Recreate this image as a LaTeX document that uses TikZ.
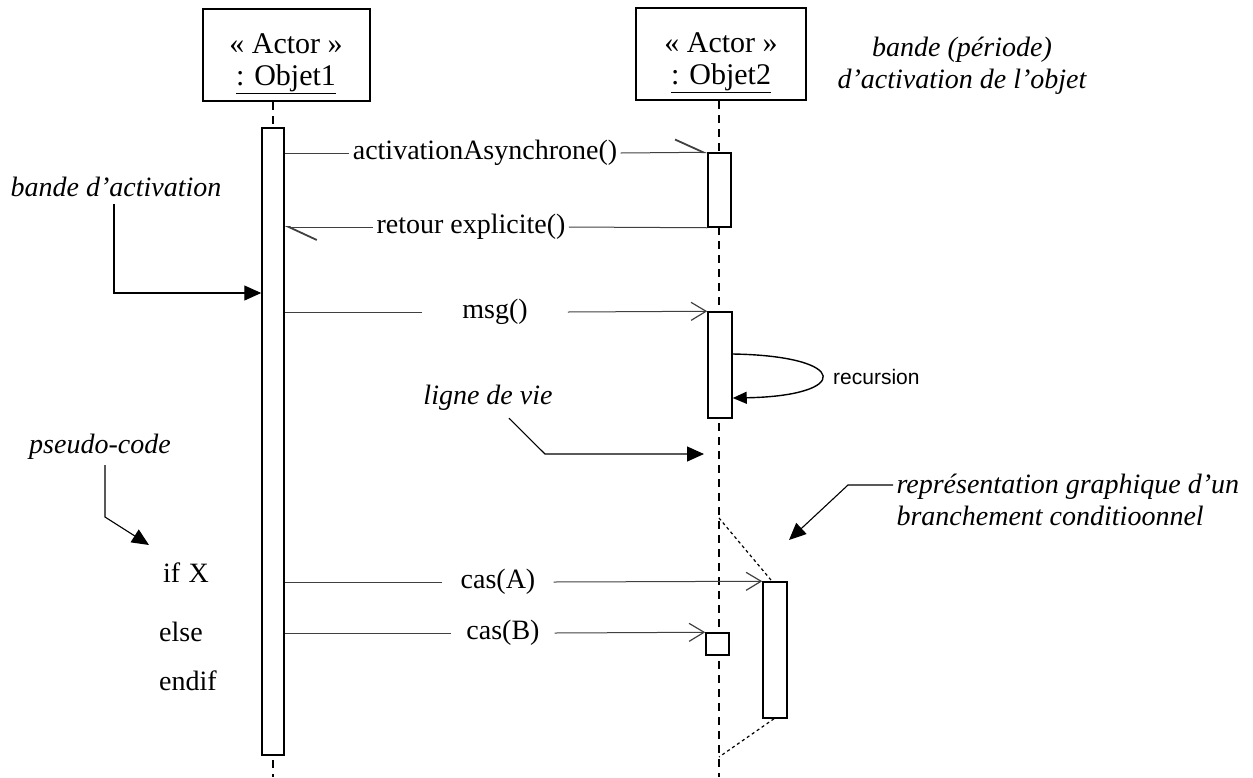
\documentclass[tikz,border=0pt]{standalone}
\usepackage{fontspec}
\setmainfont{Liberation Serif}
\newfontfamily\arialfont{Liberation Sans}
\usetikzlibrary{arrows.meta}

\begin{document}
\begin{tikzpicture}[x=1pt,y=-1pt,
    objet/.style={draw,line width=2pt,minimum width=167pt,minimum height=92pt},
    entete/.style={align=center,font=\fontsize{30}{32}\selectfont},
    bande/.style={draw,fill=white,line width=1.5pt,inner sep=0pt},
    vie/.style={line width=2pt,dash pattern=on 8pt off 6pt},
    message/.style={line width=1pt,draw=black!75},
    libelle/.style={inner ysep=1pt,font=\fontsize{28}{30}\selectfont},
    synchro/.style={message,-{Straight Barb[length=15pt,width=18pt,line width=1.2pt]}},
    asynchro/.style={message,-{Straight Barb[harpoon,length=28pt,width=26pt,line width=1.8pt]}},
    note/.style={align=center,font=\fontsize{28}{32}\selectfont\itshape},
    renvoi/.style={line width=1.1pt,-{Triangle[length=17pt,width=15pt]}},
    branche/.style={line width=1.2pt,dash pattern=on 3pt off 3pt},
    code/.style={anchor=west,inner sep=0pt,font=\fontsize{28}{30}\selectfont}]
  \useasboundingbox (0,0) rectangle (1253,777);

  \node[objet] (o1) at (286,55) {};
  \node[entete] at ([yshift=-9pt]o1.center) {« Actor »\\\underline{: Objet1}};
  \node[objet,minimum width=170pt] (o2) at (721,54) {};
  \node[entete] at ([yshift=-9pt]o2.center) {« Actor »\\\underline{: Objet2}};

  \coordinate (fin1) at (273,777);
  \coordinate (fin2) at (719,777);
  \draw[vie] (o1.south -| fin1) -- (fin1);
  \draw[vie] (o2.south -| fin2) -- (fin2);

  \coordinate (br1) at (719,518);
  \coordinate (br2) at (719,757);

  \node[bande,minimum width=22pt,minimum height=627pt] (b1) at (273,441.5) {};
  \node[bande,minimum width=23pt,minimum height=74pt] (a1) at (719.5,190) {};
  \node[bande,minimum width=24pt,minimum height=106pt] (a2) at (720,365) {};
  \node[bande,minimum width=23pt,minimum height=22pt] (cb) at (717.5,644) {};
  \node[bande,minimum width=24pt,minimum height=136pt] (bb) at (775,650) {};

  \draw[branche] (br1) -- ([xshift=-3pt]bb.north);
  \draw[branche] ([xshift=-1pt]bb.south) -- (br2);

  \node[libelle] (l1) at (485,153) {activationAsynchrone()};
  \draw[message] (b1.east |- l1) -- (l1.west);
  \draw[asynchro] (l1.east) -- (a1.north west);

  \node[libelle] (l2) at (471,227) {retour explicite()};
  \draw[message] (a1.south west) -- (l2.east);
  \draw[asynchro] (l2.west) -- (b1.east |- l2);

  \node[libelle,inner xsep=40pt] (l3) at (495,312) {msg()};
  \draw[message] (b1.east |- l3) -- (l3.west);
  \draw[synchro] (l3.east) -- (a2.north west);

  \node[libelle,inner xsep=18pt] (l4) at (498,582) {cas(A)};
  \draw[message] (b1.east |- l4) -- (l4.west);
  \draw[synchro] (l4.east) -- (bb.north west);

  \node[libelle,inner xsep=15pt] (l5) at (503,633) {cas(B)};
  \draw[message] (b1.east |- l5) -- (l5.west);
  \draw[synchro] (l5.east) -- (cb.north west);

  \draw[line width=1.4pt,-{Triangle[length=14pt,width=12pt]}] ([yshift=11pt]a2.east) .. controls (851,356) and (851,396) .. ([yshift=-33pt]a2.east);
  \node[anchor=west,inner sep=0pt,font=\arialfont\fontsize{21}{24}\selectfont] (rec) at (833,377) {recursion};

  \node[note] (n1) at (962,66) {bande (période)\\d'activation de l'objet};

  \node[note] (n2) at (116,187) {bande d'activation};
  \coordinate (p1) at (b1.west |- 0,293);
  \draw[renvoi] ([xshift=-2pt,yshift=-4pt]n2.south) |- (p1);

  \node[note] (n3) at (488,398) {ligne de vie};
  \coordinate (v1) at (545,454);
  \coordinate (v2) at (704,454);
  \draw[renvoi] ([xshift=21pt,yshift=-4pt]n3.south) -- (v1) -- (v2);

  \node[note] (n4) at (100,447) {pseudo-code};
  \coordinate (c1) at (105,517);
  \coordinate (c2) at (149,545);
  \draw[renvoi] ([xshift=5pt,yshift=-2pt]n4.south) -- (c1) -- (c2);

  \node[note,anchor=west,align=left] (n5) at (893,500) {représentation graphique d'un\\branchement conditioonnel};
  \coordinate (r1) at (848,485);
  \coordinate (r2) at (789,540);
  \draw[renvoi] ([yshift=15pt]n5.west) -- (r1) -- (r2);

  \node[code] (si) at (163,573) {if\hspace{0.3em}X};
  \node[code] (sinon) at (159,632) {else};
  \node[code] (finsi) at (159,681) {endif};
\end{tikzpicture}
\end{document}
